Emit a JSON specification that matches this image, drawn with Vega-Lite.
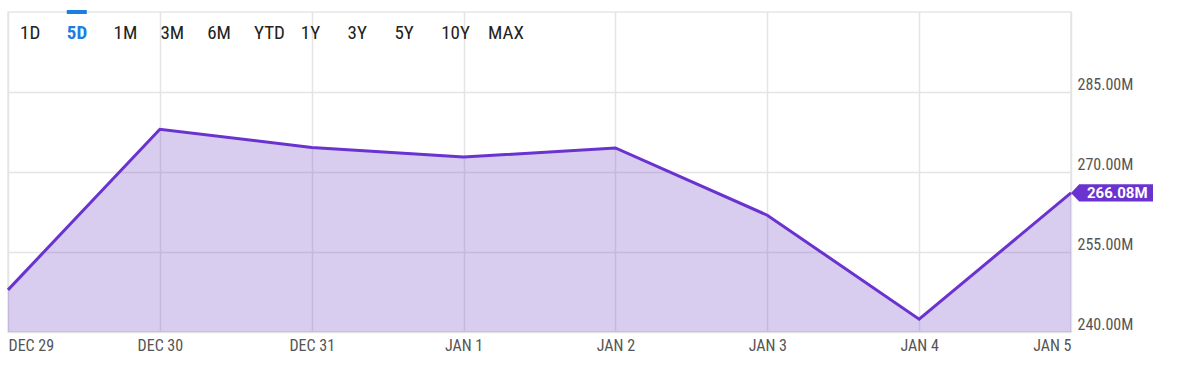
{
  "$schema": "https://vega.github.io/schema/vega-lite/v6.json",
  "width": 1063,
  "height": 320,
  "autosize": {"type": "none"},
  "padding": {"left": 8, "top": 12, "right": 131, "bottom": 53},
  "background": "#ffffff",
  "config": {
    "view": {"stroke": "#e6e6e6", "strokeWidth": 1.5},
    "font": "Roboto Condensed, Liberation Sans Narrow, Roboto, sans-serif"
  },
  "layer": [
    {
      "data": {
        "values": [
          {"day": "DEC 29", "value": 247.9},
          {"day": "DEC 30", "value": 278.0},
          {"day": "DEC 31", "value": 274.6},
          {"day": "JAN 1", "value": 272.8},
          {"day": "JAN 2", "value": 274.5},
          {"day": "JAN 3", "value": 261.9},
          {"day": "JAN 4", "value": 242.4},
          {"day": "JAN 5", "value": 266.08}
        ]
      },
      "encoding": {
        "x": {
          "field": "day",
          "type": "ordinal",
          "sort": null,
          "scale": {"type": "point", "padding": 0},
          "axis": {
            "title": null,
            "grid": true,
            "gridColor": "#e4e4e4",
            "gridWidth": 1.5,
            "domain": false,
            "ticks": false,
            "tickSize": 0,
            "labelAngle": 0,
            "labelFontSize": 16,
            "labelColor": "#555555",
            "labelPadding": 18,
            "labelBaseline": "alphabetic",
            "labelAlign": {"expr": "datum.value == 'DEC 29' ? 'left' : datum.value == 'JAN 5' ? 'right' : 'center'"}
          }
        },
        "y": {
          "field": "value",
          "type": "quantitative",
          "scale": {"domain": [240, 300], "nice": false, "zero": false},
          "axis": {
            "orient": "right",
            "title": null,
            "values": [240, 255, 270, 285],
            "labelExpr": "format(datum.value, '.2f') + 'M'",
            "grid": true,
            "gridColor": "#e4e4e4",
            "gridWidth": 1.5,
            "domain": false,
            "ticks": false,
            "tickSize": 0,
            "labelPadding": 6,
            "labelBaseline": "alphabetic",
            "labelOffset": -3,
            "labelFontSize": 16,
            "labelColor": "#555555"
          }
        }
      },
      "layer": [
        {"mark": {"type": "area", "fill": "#7d55ca", "fillOpacity": 0.3, "clip": true}},
        {"mark": {"type": "line", "stroke": "#6a32cf", "strokeWidth": 3, "strokeJoin": "miter"}},
        {
          "transform": [{"filter": "datum.day == 'JAN 5'"}],
          "mark": {"type": "point", "shape": "M0,0L0.2,-0.21L2,-0.21L2,0.21L0.2,0.21Z", "size": 6724, "filled": true, "fill": "#6a32cf", "opacity": 1, "strokeWidth": 0}
        },
        {
          "transform": [{"filter": "datum.day == 'JAN 5'"}],
          "mark": {"type": "text", "align": "left", "baseline": "middle", "dx": 16, "dy": 0, "fill": "#ffffff", "fontWeight": "bold", "fontSize": 15, "font": "Roboto, sans-serif", "text": {"expr": "format(datum.value, '.2f') + 'M'"}}
        }
      ]
    },
    {
      "data": {
        "values": [
          {"b": "1D", "on": false},
          {"b": "5D", "on": true},
          {"b": "1M", "on": false},
          {"b": "3M", "on": false},
          {"b": "6M", "on": false},
          {"b": "YTD", "on": false},
          {"b": "1Y", "on": false},
          {"b": "3Y", "on": false},
          {"b": "5Y", "on": false},
          {"b": "10Y", "on": false},
          {"b": "MAX", "on": false}
        ]
      },
      "encoding": {
        "x": {
          "field": "b",
          "type": "nominal",
          "sort": null,
          "scale": {"type": "point", "padding": 0, "range": [12, 480]},
          "axis": null
        }
      },
      "layer": [
        {
          "mark": {"type": "text", "align": "left", "baseline": "middle", "fontSize": 19, "fontWeight": {"expr": "datum.on ? 'bold' : 'normal'"}},
          "encoding": {
            "y": {"datum": 296, "type": "quantitative"},
            "text": {"field": "b"},
            "color": {"condition": {"test": "datum.on", "value": "#1a7fe0"}, "value": "#222222"}
          }
        },
        {
          "transform": [{"filter": "datum.on"}],
          "mark": {"type": "point", "shape": "M0,-0.2L2,-0.2L2,0.2L0,0.2Z", "size": 400, "filled": true, "fill": "#1a7fe0", "opacity": 1, "strokeWidth": 0},
          "encoding": {
            "y": {"datum": 300, "type": "quantitative"}
          }
        }
      ]
    }
  ],
  "resolve": {"scale": {"x": "independent"}}
}
